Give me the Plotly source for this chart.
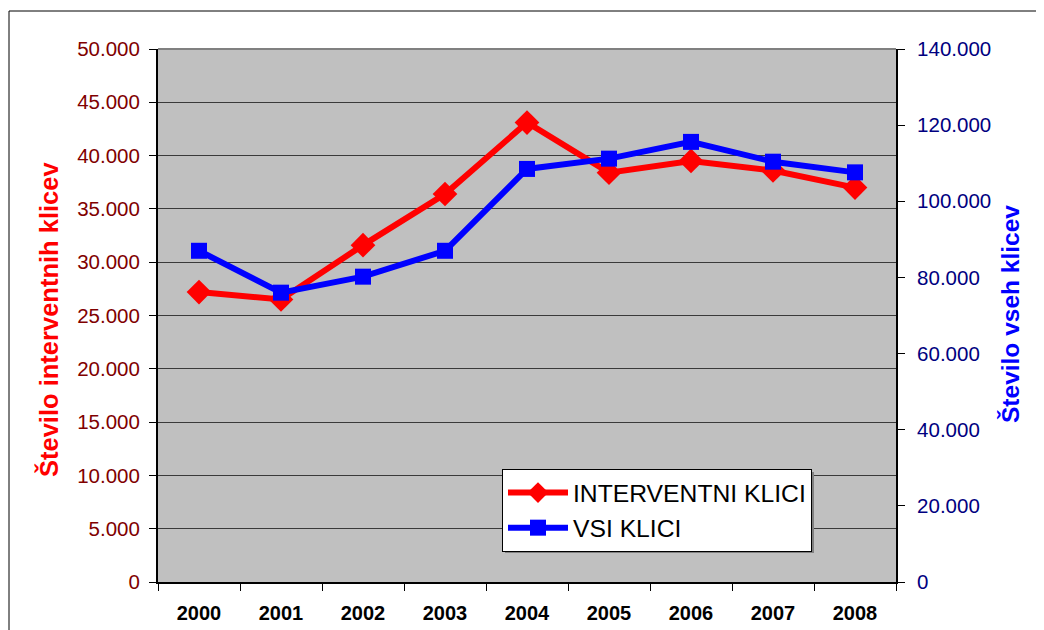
import plotly.graph_objects as go

years = ["2000", "2001", "2002", "2003", "2004", "2005", "2006", "2007", "2008"]
interventni = [27200, 26500, 31600, 36400, 43100, 38400, 39500, 38600, 37000]
vsi = [87000, 76000, 80200, 87000, 108500, 111200, 115600, 110400, 107600]

left_ticks = list(range(0, 50001, 5000))
right_ticks = list(range(0, 140001, 20000))

FONT = "Liberation Sans, Arial, sans-serif"

# page body has an 8px margin, so the figure starts at (8, 8)
OX, OY = 8, 8
PL, PR, PT, PB = 158, 896, 49, 582   # plot area in page pixels
PW, PH = PR - PL, PB - PT


def px(x):
    return (x - PL) / PW


def py(y):
    return (PB - y) / PH


fig = go.Figure()
fig.add_trace(go.Scatter(
    x=years, y=interventni, name="INTERVENTNI KLICI", mode="lines+markers",
    line=dict(color="#FF0000", width=6),
    marker=dict(symbol="diamond", size=19, color="#FF0000"),
    yaxis="y",
))
fig.add_trace(go.Scatter(
    x=years, y=vsi, name="VSI KLICI", mode="lines+markers",
    line=dict(color="#0000FF", width=6),
    marker=dict(symbol="square", size=16, color="#0000FF"),
    yaxis="y2",
))

fig.update_layout(
    width=1044 - OX, height=630 - OY,
    margin=dict(l=PL - OX, r=1044 - PR, t=PT - OY, b=630 - PB),
    paper_bgcolor="white",
    plot_bgcolor="#C0C0C0",
    separators=",.",
    showlegend=True,
    font=dict(family=FONT, color="black"),
    xaxis=dict(
        type="category", range=[-0.5, 8.5], automargin=False,
        showgrid=False, zeroline=False,
        showline=True, linecolor="black", linewidth=2,
        ticks="outside", ticklen=7, tickcolor="black", tickson="boundaries",
        ticklabelstandoff=12,
        tickfont=dict(family=FONT, size=20, color="black", weight="bold"),
    ),
    yaxis=dict(
        range=[0, 50000], tickvals=left_ticks, tickformat=",d", automargin=False,
        showgrid=True, gridcolor="#3a3a3a", gridwidth=1, zeroline=False,
        showline=True, linecolor="black", linewidth=2,
        ticks="outside", ticklen=7, tickcolor="black",
        ticklabelstandoff=5,
        tickfont=dict(family=FONT, size=20.5, color="#800000"),
    ),
    yaxis2=dict(
        range=[0, 140000], tickvals=right_ticks, tickformat=",d", automargin=False,
        overlaying="y", side="right",
        showgrid=False, zeroline=False,
        showline=True, linecolor="black", linewidth=2,
        ticks="outside", ticklen=7, tickcolor="black",
        ticklabelstandoff=8,
        tickfont=dict(family=FONT, size=20.5, color="#000080"),
    ),
    legend=dict(
        x=px(502), y=py(469),
        xanchor="left", yanchor="top",
        bgcolor="white", bordercolor="black", borderwidth=1,
        font=dict(family=FONT, size=24.7, color="black"),
        itemwidth=60, tracegroupgap=0,
    ),
    annotations=[
        dict(text="<b>Število interventnih klicev</b>", textangle=-90,
             xref="paper", yref="paper", x=px(48), y=py(320),
             xanchor="center", yanchor="middle", showarrow=False,
             font=dict(family=FONT, size=25.5, color="#FF0000")),
        dict(text="<b>Število vseh klicev</b>", textangle=-90,
             xref="paper", yref="paper", x=px(1010), y=py(314),
             xanchor="center", yanchor="middle", showarrow=False,
             font=dict(family=FONT, size=24.5, color="#0000FF")),
    ],
    shapes=[
        # outer chart frame
        dict(type="rect", xref="paper", yref="paper",
             x0=px(9), x1=px(1100), y0=py(700), y1=py(11),
             line=dict(color="black", width=1), fillcolor="rgba(0,0,0,0)", layer="below"),
        # plot area top border
        dict(type="line", xref="paper", yref="paper", x0=0, x1=1, y0=1, y1=1,
             line=dict(color="#808080", width=2)),
        # legend shadow
        dict(type="rect", xref="paper", yref="paper",
             x0=px(505), x1=px(814), y0=py(553), y1=py(472),
             line=dict(width=0), fillcolor="#808080", layer="above"),
    ],
)

fig.write_html("out.html")
